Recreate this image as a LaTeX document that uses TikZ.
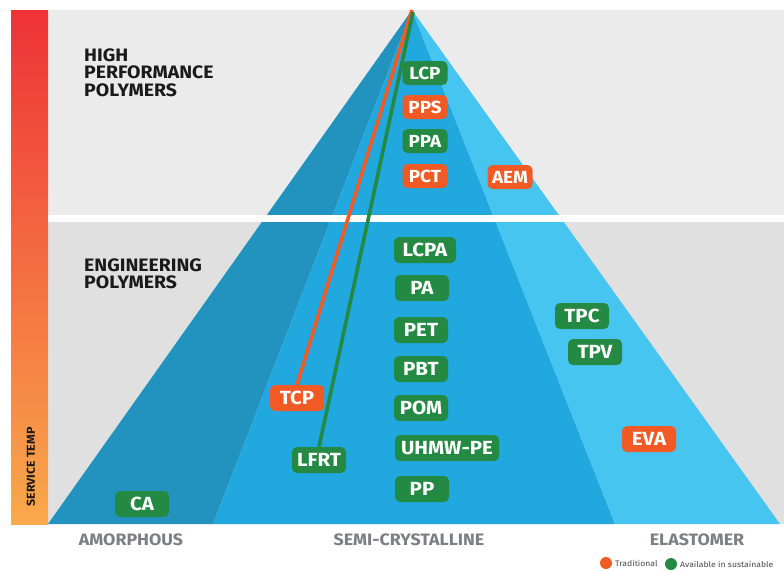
\documentclass[tikz,border=0pt]{standalone}
\usepackage{fontspec}
\setmainfont{Fira Sans}[FakeStretch=1.08]
\definecolor{bgtop}{HTML}{EBEBEB}
\definecolor{bgbot}{HTML}{DFE0DF}
\definecolor{pdark}{HTML}{2292BF}
\definecolor{pmid}{HTML}{20A8DF}
\definecolor{plight}{HTML}{47C5F1}
\definecolor{tgreen}{HTML}{248943}
\definecolor{torange}{HTML}{F15A24}
\definecolor{hdark}{HTML}{1A1A1A}
\definecolor{lgray}{HTML}{7B7F84}
\definecolor{tred}{HTML}{EE3237}
\definecolor{tyel}{HTML}{F9A94B}
\pgfdeclarelayer{bglayer}
\pgfdeclarelayer{midlayer}
\pgfsetlayers{bglayer,midlayer,main}
\tikzset{
  tag/.style={rounded corners=5pt, inner sep=0pt, minimum height=26pt, minimum width=54pt,
    text=white, font=\fontsize{19}{19}\selectfont\bfseries},
  smalltag/.style={tag, minimum height=24pt, minimum width=45pt, font=\fontsize{17.5}{17.5}\selectfont\bfseries},
  grn/.style={fill=tgreen},
  org/.style={fill=torange},
  heading/.style={anchor=north west, inner sep=0pt, align=left, text=hdark,
    font=\fontsize{18}{17.5}\selectfont\bfseries},
  axislabel/.style={inner sep=0pt, text=lgray, font=\fontsize{16.5}{16.5}\selectfont\bfseries},
  link/.style={line width=3.6pt},
  legendtext/.style={anchor=west, inner sep=0pt, text=hdark!80, font=\fontsize{8}{8}\selectfont}
}
\begin{document}
\begin{tikzpicture}[x=1pt,y=-1pt]
\useasboundingbox (0,0) rectangle (784,570);
\begin{pgfonlayer}{bglayer}
\fill[white] (0,0) rectangle (784,570);
% backgrounds
\fill[bgtop] (48,10) rectangle (784,215);
\fill[bgbot] (48,222) rectangle (784,524);
% service temp bar
\shade[top color=tred, bottom color=tyel] (11,10) rectangle (48,524);
% pyramid
\coordinate (apex) at (412,10);
\fill[pdark] (apex) -- (48,524) -- (213,524) -- cycle;
\fill[pmid] (apex) -- (213,524) -- (615,524) -- cycle;
\fill[plight] (apex) -- (615,524) -- (780,524) -- cycle;
% white band
\fill[white] (48,215) rectangle (784,222);
\end{pgfonlayer}
\node[rotate=90, inner sep=0pt, text=hdark, font=\fontsize{11.5}{11.5}\selectfont\bfseries] (st) at (31,467) {SERVICE TEMP};
% headings
\node[heading] (hp) at (84,48.5) {HIGH\\PERFORMANCE\\POLYMERS};
\node[heading] (ep) at (84,258.5) {ENGINEERING\\POLYMERS};
% tags
\node[smalltag,grn] (lcp) at (425,73) {LCP};
\node[smalltag,org] (pps) at (425,107) {PPS};
\node[smalltag,grn] (ppa) at (425,141) {PPA};
\node[smalltag,org] (pct) at (425,176) {PCT};
\node[smalltag,org] (aem) at (510,177) {AEM};
\node[tag,grn,minimum width=62pt] (lcpa) at (425,250) {LCPA};
\node[tag,grn] (pa) at (422,288) {PA};
\node[tag,grn] (pet) at (421,330) {PET};
\node[tag,grn] (pbt) at (421,369) {PBT};
\node[tag,grn] (pom) at (421,408) {POM};
\node[tag,grn,minimum width=104pt] (uhmw) at (447,448) {UHMW-PE};
\node[tag,grn] (pp) at (422,489) {PP};
\node[tag,grn] (tpc) at (582,316) {TPC};
\node[tag,grn] (tpv) at (595,352) {TPV};
\node[tag,org] (eva) at (649,439) {EVA};
\node[tag,org] (tcp) at (297,398) {TCP};
\node[tag,grn] (lfrt) at (319,460) {LFRT};
\node[tag,grn] (ca) at (142,504) {CA};
% connector lines
\begin{pgfonlayer}{midlayer}
\draw[link, torange] (apex) -- (tcp.north);
\coordinate (apex2) at (413,12);
\draw[link, tgreen] (apex2) -- (lfrt.north);
\end{pgfonlayer}
% axis labels
\node[axislabel] (am) at (131,540) {AMORPHOUS};
\node[axislabel] (sc) at (409,540) {SEMI-CRYSTALLINE};
\node[axislabel] (el) at (697,540) {ELASTOMER};
% legend
\fill[torange] (606,563) circle (6pt);
\node[legendtext] (lt) at (615,563) {Traditional};
\fill[tgreen] (671,564) circle (6pt);
\node[legendtext] (lst) at (680,564) {Available in sustainable};
\end{tikzpicture}
\end{document}
